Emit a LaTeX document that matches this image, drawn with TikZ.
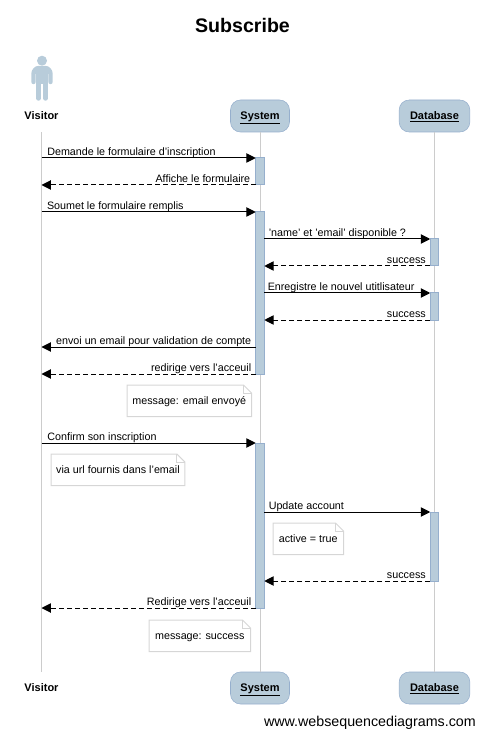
\documentclass[tikz,border=0pt]{standalone}
\usepackage{fontspec}
\setmainfont{Liberation Sans}
\usetikzlibrary{arrows.meta}
\definecolor{actblue}{RGB}{184,204,218}
\definecolor{actedge}{RGB}{150,175,205}
\definecolor{lifegray}{RGB}{204,204,204}
\definecolor{notegray}{RGB}{214,214,214}
\tikzset{
	party/.style={draw=actedge,fill=actblue,rounded corners=7.5pt,minimum height=24pt,inner sep=0pt,text height=6.2pt,text depth=1pt,font=\fontsize{8.25}{10}\selectfont\bfseries},
	actor/.style={minimum width=30pt,minimum height=24pt,inner sep=0pt,text height=6.2pt,text depth=1pt,font=\fontsize{8.25}{10}\selectfont\bfseries},
	life/.style={draw=lifegray,line width=0.75pt},
	act/.style={draw=actedge,fill=actblue,line width=0.75pt,minimum width=6.4pt,inner sep=0pt,outer sep=0pt,anchor=north},
	msg/.style={line width=0.75pt,-{Triangle[length=7pt,width=7pt]}},
	rep/.style={msg,dash pattern=on 3.75pt off 2.25pt},
	txt/.style={inner sep=0pt,font=\fontsize{8.05}{10}\selectfont,text height=6.2pt,text depth=1.8pt},
	notebox/.style={txt,minimum height=23.25pt,anchor=north west,text depth=0pt},
}
\begin{document}
\begin{tikzpicture}[x=0.75pt,y=-0.75pt]
\useasboundingbox (0,0) rectangle (484,737);
\node[font=\fontsize{14.7}{18}\selectfont\bfseries] (title) at (242.5,25.5) {Subscribe};
\node[actor] (vis) at (41.5,116) {Visitor};
\node[party,minimum width=44.25pt] (sys) at (260,116) {\underline{System}};
\node[party,minimum width=53pt] (db) at (434.5,116) {\underline{Database}};
\node[actor] (visb) at (41.5,688) {Visitor};
\node[party,minimum width=44.25pt] (sysb) at (260,688) {\underline{System}};
\node[party,minimum width=53pt] (dbb) at (434.5,688) {\underline{Database}};
\node[anchor=south east,inner sep=0pt,font=\fontsize{10.7}{12}\selectfont] (site) at (476,730) {www.websequencediagrams.com};
\foreach \a/\b in {vis/visb,sys/sysb,db/dbb} {
		\draw[life] (\a) -- (\b);}
\fill[actblue] (42,60.7) circle (5);
\draw[actblue,line width=3.3pt,line cap=round,line join=round] (33.5,82) -- (33.5,74) to[out=90,in=180] (39,68) -- (45,68) to[out=0,in=90] (50.5,74) -- (50.5,82);
\fill[actblue,rounded corners=2pt] (36,66.5) rectangle (48,84);
\draw[actblue,line width=3.3pt,line cap=round] (38.5,82) -- (38.5,98.5);
\draw[actblue,line width=3.3pt,line cap=round] (45.5,82) -- (45.5,98.5);
\foreach \n/\xx/\yy/\h in {sa/260/158/20.25,sb/260/212/121.5,sc/260/443/123.75,da/434.5/239/20.25,db2/434.5/293/20.25,dc/434.5/512/51.75} {
		\node[act,minimum height=\h pt] (\n) at (\xx,\yy) {};}
\draw[msg] (vis |- sa.north) -- (sa.north west) node[txt,pos=0,anchor=south west,xshift=4pt] (ma) {Demande le formulaire d'inscription};
\draw[rep] (sa.south west) -- (vis |- sa.south) node[txt,pos=0,anchor=south east,xshift=-3.75pt] (mb) {Affiche le formulaire};
\draw[msg] (vis |- sb.north) -- (sb.north west) node[txt,pos=0,anchor=south west,xshift=3.75pt] (mc) {Soumet le formulaire remplis};
\draw[msg] (sb.east |- da.north) -- (da.north west) node[txt,pos=0,anchor=south west,xshift=3pt] (md) {'name' et 'email' disponible ?};
\draw[rep] (da.south west) -- (sb.east |- da.south) node[txt,pos=0,anchor=south east,xshift=-3pt] (me) {success};
\draw[msg] (sb.east |- db2.north) -- (db2.north west) node[txt,pos=0,anchor=south west,xshift=2.25pt] (mf) {Enregistre le nouvel utitlisateur};
\draw[rep] (db2.south west) -- (sb.east |- db2.south) node[txt,pos=0,anchor=south east,xshift=-3pt] (mg) {success};
\coordinate (ca) at (sb.west |- 0,347);
\draw[msg] (ca) -- (vis |- ca) node[txt,pos=0,anchor=south east,xshift=-3pt] (mh) {envoi un email pour validation de compte};
\draw[rep] (sb.south west) -- (vis |- sb.south) node[txt,pos=0,anchor=south east,xshift=-3pt] (mi) {redirige vers l'acceuil};
\draw[msg] (vis |- sc.north) -- (sc.north west) node[txt,pos=0,anchor=south west,xshift=4pt] (mj) {Confirm son inscription};
\draw[msg] (sc.east |- dc.north) -- (dc.north west) node[txt,pos=0,anchor=south west,xshift=3pt] (mk) {Update account};
\draw[rep] (dc.south west) -- (sc.east |- dc.south) node[txt,pos=0,anchor=south east,xshift=-3pt] (ml) {success};
\draw[rep] (sc.south west) -- (vis |- sc.south) node[txt,pos=0,anchor=south east,xshift=-3pt] (mm) {Redirige vers l'acceuil};
\foreach \n/\xx/\yy/\w/\t in {na/127/385/93/message: email envoyé,nb/51/454/100/via url fournis dans l'email,nc/273/523/52.5/active = true,nd/149/620/75.75/message: success} {
		\node[notebox,minimum width=\w pt] (\n) at (\xx,\yy) {\t};
		\draw[notegray,line width=0.75pt] (\n.north west) -- ([xshift=-6pt]\n.north east) -- ([yshift=-6pt]\n.north east) -- (\n.south east) -- (\n.south west) -- cycle;
		\draw[notegray,line width=0.75pt] ([xshift=-6pt]\n.north east) |- ([yshift=-6pt]\n.north east);}
\end{tikzpicture}
\end{document}
